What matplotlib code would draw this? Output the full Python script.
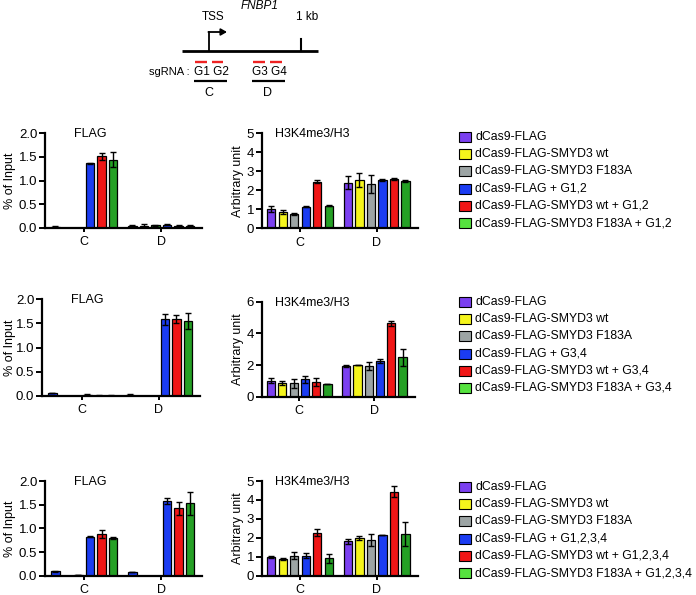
import numpy as np
import matplotlib
matplotlib.use("Agg")
import matplotlib.pyplot as plt
from matplotlib.patches import Rectangle

plt.rcParams["font.family"] = ["Liberation Sans", "DejaVu Sans"]

W, H = 696, 595

groups = ["C", "D"]

# FLAG ChIP, % of input (6 conditions per region)
flag_g12 = [[0.03, 0.0, 0.0, 1.36, 1.51, 1.44], [0.05, 0.05, 0.06, 0.07, 0.05, 0.05]]
flag_g12_err = [[0.01, 0.0, 0.0, 0.01, 0.07, 0.16], [0.005, 0.03, 0.01, 0.015, 0.005, 0.01]]
flag_g34 = [[0.06, 0.0, 0.0, 0.03, 0.01, 0.01], [0.02, 0.0, 0.0, 1.58, 1.59, 1.55]]
flag_g34_err = [[0.005, 0.0, 0.0, 0.02, 0.005, 0.005], [0.03, 0.0, 0.0, 0.12, 0.09, 0.16]]
flag_g1234 = [[0.09, 0.0, 0.01, 0.82, 0.88, 0.79], [0.08, 0.0, 0.0, 1.58, 1.42, 1.53]]
flag_g1234_err = [[0.005, 0.0, 0.005, 0.01, 0.09, 0.02], [0.005, 0.0, 0.0, 0.07, 0.13, 0.24]]

# H3K4me3/H3, arbitrary unit
h3_g12 = [[1.0, 0.85, 0.77, 1.14, 2.46, 1.2], [2.4, 2.54, 2.33, 2.54, 2.58, 2.5]]
h3_g12_err = [[0.15, 0.11, 0.06, 0.04, 0.1, 0.02], [0.33, 0.38, 0.45, 0.05, 0.06, 0.06]]
h3_g34 = [[1.0, 0.88, 0.84, 1.09, 0.95, 0.78], [1.94, 1.98, 1.94, 2.25, 4.63, 2.48]]
h3_g34_err = [[0.15, 0.12, 0.28, 0.2, 0.25, 0.0], [0.04, 0.0, 0.27, 0.15, 0.18, 0.55]]
h3_g1234 = [[1.0, 0.88, 1.06, 1.06, 2.27, 0.92], [1.83, 2.0, 1.88, 2.15, 4.44, 2.22]]
h3_g1234_err = [[0.05, 0.03, 0.18, 0.12, 0.2, 0.23], [0.13, 0.12, 0.3, 0.02, 0.29, 0.63]]

base_labels = ["dCas9-FLAG", "dCas9-FLAG-SMYD3 wt", "dCas9-FLAG-SMYD3 F183A",
               "dCas9-FLAG + {}", "dCas9-FLAG-SMYD3 wt + {}", "dCas9-FLAG-SMYD3 F183A + {}"]
guides = ["G1,2", "G3,4", "G1,2,3,4"]

BLUE, RED, GREEN = "#1b3cf2", "#f01616", "#25a025"
flag_colors = [BLUE, RED, GREEN, BLUE, RED, GREEN]
h3_colors = ["#7b40f0", "#f5f51c", "#9ca4a4", BLUE, RED, GREEN]
legend_colors = ["#7b40f0", "#f5f51c", "#9ca4a4", BLUE, RED, "#55e23e"]


def px_rect(left, right, top, bottom):
    return [left / W, 1 - bottom / H, (right - left) / W, (bottom - top) / H]


def bar_panel(fig, rect, vals, errs, colors, ylim, yticks, title, title_x, xlim, ylabel, ylabel_x, ytickfmt):
    ax = fig.add_axes(rect)
    vals = np.array(vals)
    errs = np.array(errs)
    offsets = (np.arange(6) - 2.5) * 0.15
    for gi in range(len(groups)):
        ax.bar(gi + offsets, vals[gi], width=0.11, color=colors, edgecolor="black",
               linewidth=0.9, zorder=2)
        ax.errorbar(gi + offsets, vals[gi], yerr=errs[gi], fmt="none", ecolor="black",
                    elinewidth=1.0, capsize=2.5, capthick=1.0, zorder=3)
    ax.set_xlim(*xlim)
    ax.set_ylim(*ylim)
    ax.set_yticks(yticks)
    ax.set_yticklabels([ytickfmt.format(t) for t in yticks])
    ax.set_xticks(range(len(groups)))
    ax.set_xticklabels(groups)
    for s in ("top", "right"):
        ax.spines[s].set_visible(False)
    for s in ("left", "bottom"):
        ax.spines[s].set_linewidth(1.6)
    ax.tick_params(axis="y", direction="out", length=4, width=1.4, labelsize=9.5, pad=1.5)
    ax.tick_params(axis="x", direction="out", length=3, width=1.4, labelsize=9, pad=3)
    ax.text(title_x, 0.99, title, transform=ax.transAxes, fontsize=9, va="center", ha="left")
    ax.set_ylabel(ylabel, fontsize=9)
    ax.yaxis.set_label_coords(ylabel_x, 0.5)
    return ax


fig = plt.figure(figsize=(W / 100, H / 100), dpi=100)

# schematic of the FNBP1 locus, drawn in pixel coordinates
ax0 = fig.add_axes([0, 0, 1, 1])
ax0.set_xlim(0, W)
ax0.set_ylim(H, 0)
ax0.axis("off")
ax0.plot([182, 318], [50.5, 50.5], color="black", lw=2.0, solid_capstyle="butt")
ax0.plot([209, 209], [50.5, 32], color="black", lw=1.3)
ax0.annotate("", xy=(227, 32), xytext=(208.4, 32),
             arrowprops=dict(arrowstyle="-|>,head_length=0.35,head_width=0.2", color="black", lw=1.3, shrinkA=0, shrinkB=0))
ax0.plot([301, 301], [39, 50.5], color="black", lw=1.5)
ax0.text(213, 17, "TSS", fontsize=8.5, ha="center", va="center")
ax0.text(260, 6, "FNBP1", fontsize=8.5, ha="center", va="center", style="italic")
ax0.text(307, 17, "1 kb", fontsize=8.5, ha="center", va="center")
for x0, x1 in [(195, 207), (212, 223), (253, 265), (270, 282)]:
    ax0.plot([x0, x1], [62, 62], color="#ee2222", lw=1.7, solid_capstyle="butt")
ax0.text(190, 72, "sgRNA :", fontsize=8, ha="right", va="center")
ax0.text(211, 72, "G1 G2", fontsize=8.5, ha="center", va="center")
ax0.text(269, 72, "G3 G4", fontsize=8.5, ha="center", va="center")
for x0, x1 in [(194, 227), (252, 285)]:
    ax0.plot([x0, x1], [81, 81], color="black", lw=1.6, solid_capstyle="butt")
ax0.text(209, 93, "C", fontsize=9, ha="center", va="center")
ax0.text(268, 93, "D", fontsize=9, ha="center", va="center")

flag_sets = [(flag_g12, flag_g12_err), (flag_g34, flag_g34_err), (flag_g1234, flag_g1234_err)]
h3_sets = [(h3_g12, h3_g12_err, 5), (h3_g34, h3_g34_err, 6), (h3_g1234, h3_g1234_err, 5)]
flag_rects = [(45, 202, 133, 228), (42, 200, 299, 396), (45, 202, 481, 575.7)]
h3_rects = [(261.7, 418, 133.3, 228.3), (261.7, 415, 301.7, 396.7), (261.7, 418, 481, 575.7)]
legend_top = [137, 302, 487]

for r in range(3):
    fl, fr, ft, fb = flag_rects[r]
    vals, errs = flag_sets[r]
    bar_panel(fig, px_rect(fl, fr, ft, fb), vals, errs, flag_colors, (0, 2.0),
              [0, 0.5, 1.0, 1.5, 2.0], "FLAG", 0.185, (-0.51, 1.53),
              "% of Input", (16 - fl) / (fr - fl), "{:.1f}")
    hl, hr, ht, hb = h3_rects[r]
    vals, errs, ymax = h3_sets[r]
    yt = list(range(0, ymax + 1)) if ymax == 5 else [0, 2, 4, 6]
    bar_panel(fig, px_rect(hl, hr, ht, hb), vals, errs, h3_colors, (0, ymax),
              yt, "H3K4me3/H3", 0.085, (-0.5, 1.54),
              "Arbitrary unit", (244 - hl) / (hr - hl), "{:d}")
    for i, lab in enumerate(base_labels):
        y = legend_top[r] + i * 17.2
        ax0.add_patch(Rectangle((459, y - 5), 12, 10, facecolor=legend_colors[i],
                                edgecolor="black", lw=0.8))
        ax0.text(475, y, lab.format(guides[r]), fontsize=8.8, ha="left", va="center")

fig.savefig("out.png", dpi=100)
